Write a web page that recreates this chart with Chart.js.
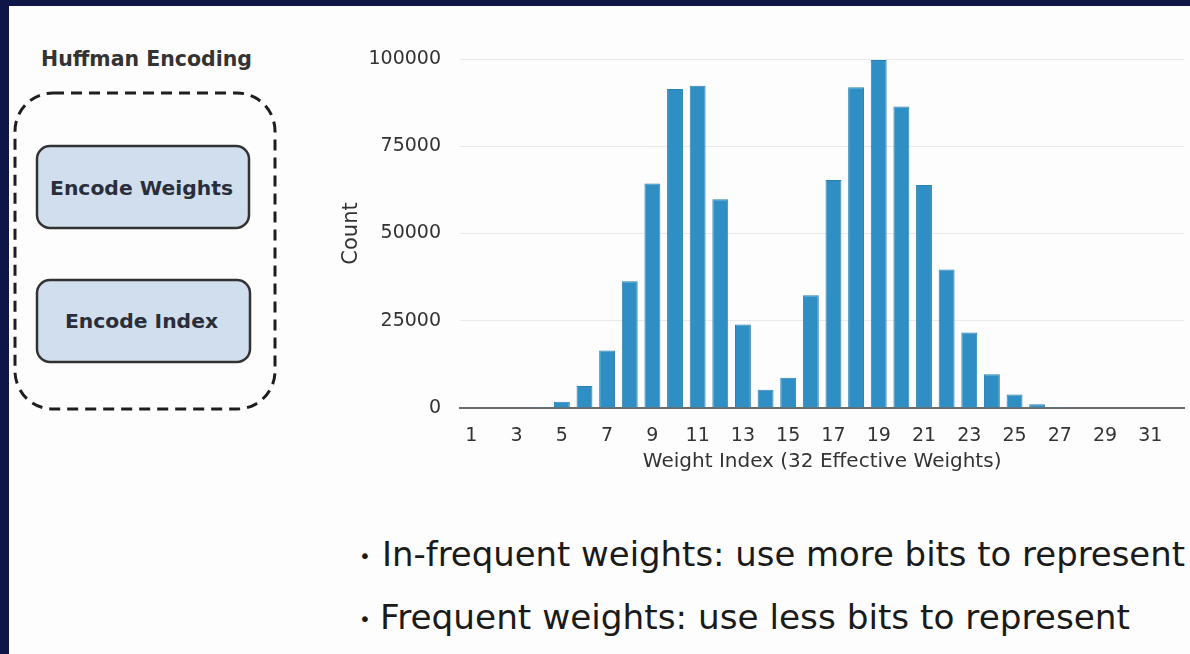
<!DOCTYPE html>
<html>
<head>
<meta charset="utf-8">
<script src="https://cdn.jsdelivr.net/npm/chart.js@4.4.1/dist/chart.umd.min.js"></script>
<style>
  html, body { margin: 0; padding: 0; }
  body { width: 1190px; height: 654px; background: #0d1646; position: relative; overflow: hidden; }
  #slide { position: absolute; left: 9px; top: 6px; width: 1181px; height: 648px; background: #fdfdfd; }
  #overlay { position: absolute; left: 0; top: 0; }
  #chartBox { position: absolute; left: 330px; top: 40px; width: 860px; height: 440px; }
</style>
</head>
<body>
<div id="slide"></div>

<svg id="overlay" width="1190" height="654" font-family="DejaVu Sans, sans-serif">
  <text x="41" y="66" font-size="21" font-weight="bold" fill="#333" textLength="211" lengthAdjust="spacingAndGlyphs">Huffman Encoding</text>
  <rect x="15" y="93" width="260" height="316" rx="38" ry="38" fill="none" stroke="#1e1e1e" stroke-width="3" stroke-dasharray="11 7"/>
  <rect x="37" y="146" width="212" height="82" rx="13" ry="13" fill="#d0deee" stroke="#333" stroke-width="2.5"/>
  <text x="50" y="195" font-size="20" font-weight="bold" fill="#2a2d3a" textLength="183" lengthAdjust="spacingAndGlyphs">Encode Weights</text>
  <rect x="37" y="280" width="213" height="82" rx="13" ry="13" fill="#d0deee" stroke="#333" stroke-width="2.5"/>
  <text x="65" y="328" font-size="20" font-weight="bold" fill="#2a2d3a" textLength="153" lengthAdjust="spacingAndGlyphs">Encode Index</text>

  <text x="359" y="563" font-size="20" fill="#1a1a1a">•</text>
  <text x="382" y="566" font-size="34" fill="#1a1a1a" textLength="803" lengthAdjust="spacingAndGlyphs">In-frequent weights: use more bits to represent</text>
  <text x="359" y="626" font-size="20" fill="#1a1a1a">•</text>
  <text x="380" y="629" font-size="34" fill="#1a1a1a" textLength="750" lengthAdjust="spacingAndGlyphs">Frequent weights: use less bits to represent</text>
</svg>

<div id="chartBox"><canvas id="histChart"></canvas></div>

<script>
// weight index 1..32
var weightIndex = ['1','2','3','4','5','6','7','8','9','10','11','12','13','14','15','16',
                   '17','18','19','20','21','22','23','24','25','26','27','28','29','30','31','32'];
// count per weight index
var counts = [100, 150, 200, 300, 1800, 6300, 16500, 36300, 64300, 91400, 92300, 59800, 23900, 5200, 8700, 32300,
              65300, 91900, 99700, 86400, 63900, 39700, 21600, 9700, 3900, 1100, 300, 200, 150, 150, 100, 100];
var yTicks = [0, 25000, 50000, 75000, 100000];

var fontFamily = 'DejaVu Sans, sans-serif';

var ctx = document.getElementById('histChart');
var histChart = new Chart(ctx, {
  type: 'bar',
  data: {
    labels: weightIndex,
    datasets: [{
      label: 'Count',
      data: counts,
      backgroundColor: '#2f8fc4',
      borderColor: '#2a80b2',
      borderWidth: 1,
      barPercentage: 0.78,
      categoryPercentage: 0.9
    }]
  },
  options: {
    responsive: true,
    maintainAspectRatio: false,
    animation: false,
    layout: { padding: { left: 0, right: 2, top: 19, bottom: 0 } },
    plugins: {
      legend: { display: false },
      tooltip: { enabled: false }
    },
    scales: {
      x: {
        grid: { display: false, drawTicks: false },
        border: { display: true, color: '#6b6b6b', width: 2 },
        ticks: {
          autoSkip: false,
          maxRotation: 0,
          padding: 17,
          color: '#333',
          font: { family: fontFamily, size: 19 },
          callback: function (val, i) { return i % 2 === 0 ? weightIndex[i] : ''; }
        },
        title: {
          display: true,
          text: 'Weight Index (32 Effective Weights)',
          color: '#333',
          font: { family: fontFamily, size: 20 },
          padding: { top: 0, bottom: 6 }
        },
        afterFit: function (scale) { scale.height = 72; }
      },
      y: {
        min: 0,
        max: 100000,
        afterBuildTicks: function (scale) {
          scale.ticks = yTicks.map(function (v) { return { value: v }; });
        },
        grid: { color: '#e9e9e9', lineWidth: 1, drawTicks: false },
        border: { display: false },
        ticks: {
          padding: 19,
          color: '#333',
          font: { family: fontFamily, size: 19 },
          callback: function (v) { return String(v); }
        },
        title: {
          display: true,
          text: 'Count',
          color: '#333',
          font: { family: fontFamily, size: 21 },
          padding: { top: 9, bottom: 0 }
        },
        afterFit: function (scale) {
          scale.width = 130;
          // tick padding otherwise pushes the top of the plot down
          scale.paddingTop = 0;
          scale.paddingBottom = 0;
        }
      }
    }
  }
});
</script>
</body>
</html>
